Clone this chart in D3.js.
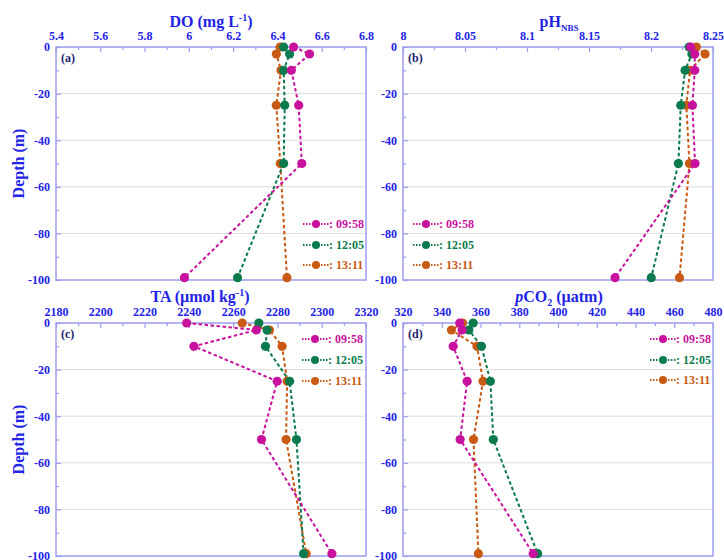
<!DOCTYPE html>
<html>
<head>
<meta charset="utf-8">
<script src="https://cdn.jsdelivr.net/npm/d3@7"></script>
<style>
  html, body { margin: 0; padding: 0; background: #fff; }
  svg { display: block; font-family: "Liberation Serif", "Times New Roman", serif; }
</style>
</head>
<body>
<svg id="chart" width="724" height="560"></svg>
<script>
// Sampling depths (m) and cast times
const depths = [0, -3, -10, -25, -50, -99];
const times = ["09:58", "12:05", "13:11"];
const seriesColors = ["#c8129e", "#0b7a4c", "#c85a14"];

// Dissolved oxygen (mg L-1), one row per cast time
const doSeries = [
  [6.473, 6.545, 6.463, 6.496, 6.51, 5.98],
  [6.428, 6.455, 6.428, 6.433, 6.428, 6.22],
  [6.412, 6.395, 6.416, 6.395, 6.413, 6.443]
];
// pH on the NBS scale
const phSeries = [
  [8.232, 8.2353, 8.2353, 8.2334, 8.2355, 8.171],
  [8.2307, 8.233, 8.2275, 8.224, 8.2221, 8.2002],
  [8.2366, 8.2436, 8.2315, 8.2285, 8.231, 8.223]
];
// Total alkalinity (umol kg-1)
const taSeries = [
  [2239, 2270.5, 2242.3, 2279.9, 2272.8, 2304.6],
  [2271.6, 2275.3, 2274.6, 2285.5, 2288.6, 2291.8],
  [2264.1, 2276.4, 2282.1, 2284.4, 2283.9, 2293]
];
// pCO2 (uatm)
const pco2Series = [
  [349.3, 350.5, 345.9, 353.1, 349.5, 387.2],
  [356.2, 354, 360.5, 365.1, 366.6, 389.5],
  [350.7, 345.0, 358.2, 361.3, 356.4, 358.9]
];

// Axis ticks
const doTicks = [5.4, 5.6, 5.8, 6, 6.2, 6.4, 6.6, 6.8];
const phTicks = [8, 8.05, 8.1, 8.15, 8.2, 8.25];
const taTicks = [2180, 2200, 2220, 2240, 2260, 2280, 2300, 2320];
const pco2Ticks = [320, 340, 360, 380, 400, 420, 440, 460, 480];
const depthTicks = [0, -20, -40, -60, -80, -100];
const depthMinor = [-10, -30, -50, -70, -90];

const TEXT_BLUE = "#2323e6";
const FRAME = "#9c9cf0";

const svg = d3.select("#chart");

const panels = [
  { tag: "(a)", left: 56, top: 47, series: doSeries, domain: [5.4, 6.8], ticks: doTicks, minorStep: 0.1,
    depthTitle: true, title: "do", titleX: 211, titleY: 27, legend: { cx: 316, cy: [224, 245, 265] } },
  { tag: "(b)", left: 403, top: 47, series: phSeries, domain: [8, 8.25], ticks: phTicks, minorStep: 0.025,
    depthTitle: false, title: "ph", titleX: 559, titleY: 27, legend: { cx: 426, cy: [224, 245, 265] } },
  { tag: "(c)", left: 56, top: 323, series: taSeries, domain: [2180, 2320], ticks: taTicks, minorStep: 10,
    depthTitle: true, title: "ta", titleX: 200, titleY: 302, legend: { cx: 315, cy: [339, 360, 381] } },
  { tag: "(d)", left: 403, top: 323, series: pco2Series, domain: [320, 480], ticks: pco2Ticks, minorStep: 10,
    depthTitle: false, title: "pco2", titleX: 559, titleY: 302, legend: { cx: 663, cy: [339, 360, 380] } }
];

const W = 310, H = 233;

function drawTitle(g, p) {
  const t = g.append("text")
    .attr("x", p.titleX).attr("y", p.titleY)
    .attr("text-anchor", "middle")
    .attr("fill", TEXT_BLUE)
    .attr("font-weight", "bold")
    .attr("font-size", 16);
  if (p.title === "do") {
    t.append("tspan").text("DO (mg L");
    t.append("tspan").attr("font-size", 10).attr("dy", -6).text("-1");
    t.append("tspan").attr("dy", 6).text(")");
  } else if (p.title === "ph") {
    t.append("tspan").text("pH");
    t.append("tspan").attr("font-size", 9).attr("dy", 4).text("NBS");
  } else if (p.title === "ta") {
    t.append("tspan").text("TA (\u00b5mol kg");
    t.append("tspan").attr("font-size", 10).attr("dy", -6).text("-1");
    t.append("tspan").attr("dy", 6).text(")");
  } else {
    t.append("tspan").attr("font-style", "italic").text("p");
    t.append("tspan").text("CO");
    t.append("tspan").attr("font-size", 10).attr("dy", 4).text("2");
    t.append("tspan").attr("dy", -4).text(" (\u00b5atm)");
  }
}

panels.forEach(p => {
  const g = svg.append("g");
  const x = d3.scaleLinear().domain(p.domain).range([p.left, p.left + W]);
  const y = d3.scaleLinear().domain([0, -100]).range([p.top, p.top + H]);

  // horizontal gridlines
  g.append("g").selectAll("line")
    .data([-20, -40, -60, -80])
    .join("line")
    .attr("x1", p.left).attr("x2", p.left + W)
    .attr("y1", d => y(d)).attr("y2", d => y(d))
    .attr("stroke", "#dcdcdc").attr("stroke-width", 1);

  // top axis: major + minor ticks pointing inward
  const minor = d3.range(p.domain[0] + p.minorStep, p.domain[1], p.minorStep * 2);
  const xMinor = g.append("g").attr("transform", `translate(0,${p.top})`)
    .call(d3.axisTop(x).tickValues(minor).tickSize(-3).tickFormat(""));
  const xMajor = g.append("g").attr("transform", `translate(0,${p.top})`)
    .call(d3.axisTop(x).tickValues(p.ticks).tickSize(-5).tickPadding(7)
      .tickFormat(d => String(+d.toFixed(3))));

  // left axis
  const yMinor = g.append("g").attr("transform", `translate(${p.left},0)`)
    .call(d3.axisLeft(y).tickValues(depthMinor).tickSize(-3).tickFormat(""));
  const yMajor = g.append("g").attr("transform", `translate(${p.left},0)`)
    .call(d3.axisLeft(y).tickValues(depthTicks).tickSize(-5).tickPadding(6)
      .tickFormat(d => String(d)));

  [xMinor, xMajor, yMinor, yMajor].forEach(a => {
    a.select(".domain").remove();
    a.selectAll(".tick line").attr("stroke", FRAME).attr("stroke-width", 1.2);
    a.selectAll("text")
      .attr("fill", TEXT_BLUE)
      .attr("font-size", 12)
      .attr("font-weight", "bold")
      .attr("font-family", "Liberation Serif, serif");
  });

  // frame
  g.append("rect")
    .attr("x", p.left).attr("y", p.top).attr("width", W).attr("height", H)
    .attr("fill", "none").attr("stroke", FRAME).attr("stroke-width", 1.5);

  // panel tag
  g.append("text").attr("x", p.left + 5).attr("y", p.top + 15)
    .attr("fill", "#1c1c70").attr("font-size", 12).attr("font-weight", "bold")
    .text(p.tag);

  drawTitle(svg, p);

  if (p.depthTitle) {
    svg.append("text")
      .attr("transform", `translate(24,${p.top + H / 2}) rotate(-90)`)
      .attr("text-anchor", "middle")
      .attr("fill", TEXT_BLUE).attr("font-size", 16).attr("font-weight", "bold")
      .text("Depth (m)");
  }

  // profiles: draw later casts first so the earliest sits on top
  const line = d3.line().x(d => x(d.v)).y(d => y(d.z));
  [2, 1, 0].forEach(i => {
    const pts = p.series[i].map((v, k) => ({ v, z: depths[k] }));
    g.append("path").datum(pts)
      .attr("d", line)
      .attr("fill", "none")
      .attr("stroke", seriesColors[i])
      .attr("stroke-width", 2)
      .attr("stroke-dasharray", "3.5,2.5");
    g.append("g").selectAll("circle").data(pts).join("circle")
      .attr("cx", d => x(d.v)).attr("cy", d => y(d.z))
      .attr("r", 4.6)
      .attr("fill", seriesColors[i]);
  });

  // legend
  times.forEach((t, i) => {
    const cx = p.legend.cx, cy = p.legend.cy[i];
    g.append("line")
      .attr("x1", cx - 13).attr("x2", cx + 13).attr("y1", cy).attr("y2", cy)
      .attr("stroke", seriesColors[i]).attr("stroke-width", 2)
      .attr("stroke-dasharray", "1.5,1.5");
    g.append("circle").attr("cx", cx).attr("cy", cy).attr("r", 4)
      .attr("fill", seriesColors[i]);
    g.append("text").attr("x", cx + 13).attr("y", cy + 4)
      .attr("fill", seriesColors[i]).attr("font-size", 12).attr("font-weight", "bold")
      .text(": " + t);
  });
});
</script>
</body>
</html>
